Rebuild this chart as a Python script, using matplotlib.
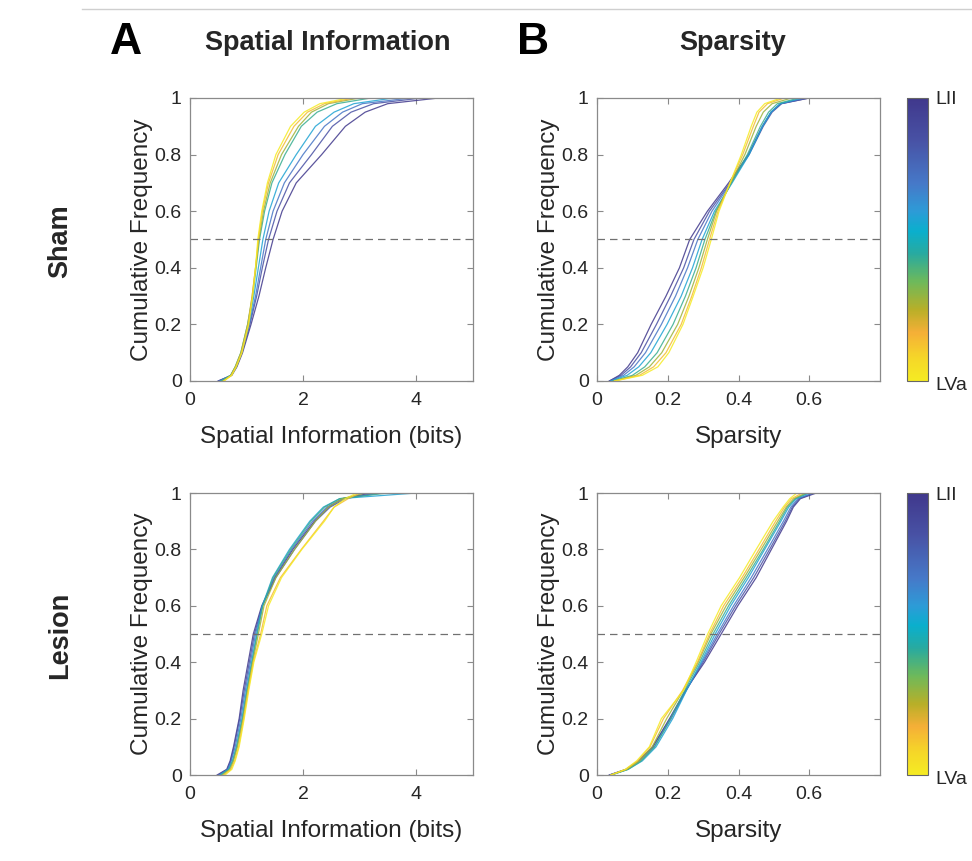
import numpy as np
import matplotlib
matplotlib.use("Agg")
import matplotlib.pyplot as plt
from matplotlib.colors import LinearSegmentedColormap, Normalize
from matplotlib.cm import ScalarMappable
from matplotlib.lines import Line2D

plt.rcParams["font.family"] = ["Liberation Sans", "DejaVu Sans"]

# cumulative frequency levels at which each curve's x value was read
cum_levels = [0, 0.02, 0.05, 0.1, 0.2, 0.3, 0.4, 0.5, 0.6, 0.7, 0.8, 0.9, 0.95, 0.98, 1.0]

# curves ordered from LII (first) to LVa (last)
sham_si = [
    [0.50, 0.74, 0.83, 0.93, 1.08, 1.22, 1.34, 1.47, 1.63, 1.88, 2.33, 2.75, 3.10, 3.50, 4.40],
    [0.50, 0.73, 0.82, 0.92, 1.06, 1.18, 1.28, 1.39, 1.54, 1.76, 2.15, 2.52, 2.85, 3.25, 4.10],
    [0.52, 0.73, 0.82, 0.91, 1.05, 1.16, 1.25, 1.34, 1.47, 1.67, 2.00, 2.38, 2.70, 3.05, 3.90],
    [0.55, 0.72, 0.81, 0.91, 1.04, 1.13, 1.21, 1.29, 1.40, 1.57, 1.88, 2.22, 2.55, 2.90, 3.60],
    [0.55, 0.72, 0.80, 0.90, 1.02, 1.11, 1.17, 1.23, 1.32, 1.45, 1.68, 1.97, 2.25, 2.60, 3.20],
    [0.58, 0.72, 0.80, 0.90, 1.02, 1.10, 1.16, 1.22, 1.30, 1.42, 1.62, 1.92, 2.15, 2.45, 3.00],
    [0.60, 0.73, 0.81, 0.91, 1.03, 1.10, 1.16, 1.21, 1.28, 1.39, 1.56, 1.84, 2.08, 2.38, 2.90],
    [0.60, 0.74, 0.82, 0.92, 1.04, 1.11, 1.16, 1.20, 1.27, 1.37, 1.52, 1.78, 2.02, 2.30, 2.80],
]

sham_sp = [
    [0.035, 0.063, 0.087, 0.115, 0.153, 0.195, 0.233, 0.262, 0.312, 0.372, 0.428, 0.468, 0.492, 0.520, 0.600],
    [0.035, 0.068, 0.095, 0.125, 0.168, 0.208, 0.245, 0.274, 0.318, 0.376, 0.430, 0.470, 0.495, 0.522, 0.600],
    [0.038, 0.075, 0.105, 0.137, 0.182, 0.222, 0.256, 0.285, 0.325, 0.378, 0.428, 0.467, 0.492, 0.518, 0.590],
    [0.040, 0.085, 0.118, 0.152, 0.198, 0.238, 0.270, 0.297, 0.332, 0.382, 0.430, 0.468, 0.492, 0.518, 0.580],
    [0.045, 0.100, 0.135, 0.170, 0.215, 0.250, 0.280, 0.305, 0.336, 0.380, 0.425, 0.462, 0.485, 0.510, 0.570],
    [0.048, 0.110, 0.148, 0.183, 0.228, 0.260, 0.288, 0.312, 0.338, 0.378, 0.418, 0.450, 0.470, 0.495, 0.550],
    [0.050, 0.120, 0.160, 0.195, 0.238, 0.268, 0.295, 0.318, 0.342, 0.376, 0.412, 0.442, 0.458, 0.482, 0.530],
    [0.050, 0.128, 0.172, 0.203, 0.243, 0.272, 0.300, 0.323, 0.345, 0.376, 0.408, 0.436, 0.452, 0.474, 0.520],
]

lesion_si = [
    [0.48, 0.65, 0.71, 0.77, 0.87, 0.94, 1.03, 1.12, 1.27, 1.50, 1.82, 2.20, 2.45, 2.70, 3.20],
    [0.50, 0.66, 0.72, 0.78, 0.88, 0.96, 1.05, 1.14, 1.28, 1.52, 1.85, 2.22, 2.48, 2.75, 3.30],
    [0.52, 0.67, 0.73, 0.80, 0.90, 0.98, 1.07, 1.16, 1.28, 1.49, 1.80, 2.17, 2.42, 2.70, 3.40],
    [0.53, 0.68, 0.75, 0.82, 0.92, 1.00, 1.09, 1.18, 1.28, 1.46, 1.76, 2.12, 2.36, 2.65, 4.00],
    [0.55, 0.69, 0.76, 0.83, 0.93, 1.01, 1.10, 1.19, 1.29, 1.47, 1.78, 2.14, 2.38, 2.65, 3.50],
    [0.57, 0.71, 0.77, 0.84, 0.94, 1.02, 1.11, 1.21, 1.31, 1.52, 1.85, 2.22, 2.45, 2.70, 3.10],
    [0.60, 0.72, 0.79, 0.86, 0.95, 1.03, 1.12, 1.25, 1.36, 1.60, 1.97, 2.36, 2.55, 2.80, 3.00],
    [0.62, 0.74, 0.80, 0.87, 0.96, 1.04, 1.13, 1.27, 1.39, 1.62, 1.98, 2.38, 2.55, 2.75, 2.95],
]

lesion_sp = [
    [0.035, 0.082, 0.118, 0.158, 0.205, 0.250, 0.304, 0.351, 0.398, 0.450, 0.493, 0.536, 0.555, 0.575, 0.620],
    [0.035, 0.082, 0.117, 0.157, 0.207, 0.252, 0.300, 0.345, 0.392, 0.443, 0.488, 0.532, 0.552, 0.572, 0.615],
    [0.037, 0.085, 0.122, 0.162, 0.210, 0.252, 0.297, 0.340, 0.386, 0.436, 0.482, 0.527, 0.548, 0.568, 0.610],
    [0.040, 0.088, 0.128, 0.167, 0.214, 0.253, 0.294, 0.334, 0.378, 0.428, 0.474, 0.520, 0.542, 0.563, 0.600],
    [0.040, 0.088, 0.125, 0.163, 0.208, 0.248, 0.290, 0.328, 0.372, 0.422, 0.470, 0.516, 0.538, 0.560, 0.595],
    [0.040, 0.085, 0.120, 0.156, 0.197, 0.244, 0.286, 0.322, 0.365, 0.416, 0.464, 0.511, 0.535, 0.556, 0.590],
    [0.038, 0.082, 0.115, 0.150, 0.188, 0.242, 0.284, 0.318, 0.358, 0.410, 0.458, 0.505, 0.530, 0.550, 0.580],
    [0.040, 0.080, 0.112, 0.148, 0.182, 0.245, 0.280, 0.313, 0.351, 0.403, 0.450, 0.498, 0.526, 0.545, 0.565],
]

# parula-like colormap, sampled from the reference colour bar (LII -> LVa)
cmap_pts = [
    (0.00, (64, 56, 140)),
    (0.15, (72, 82, 165)),
    (0.30, (70, 120, 200)),
    (0.40, (45, 155, 215)),
    (0.47, (10, 175, 205)),
    (0.55, (40, 170, 160)),
    (0.65, (110, 185, 90)),
    (0.75, (185, 175, 40)),
    (0.83, (245, 175, 55)),
    (0.92, (245, 215, 40)),
    (1.00, (245, 235, 35)),
]
parula = LinearSegmentedColormap.from_list(
    "parula_like", [(p, tuple(c / 255 for c in rgb)) for p, rgb in cmap_pts])

W, H = 972, 861
fig = plt.figure(figsize=(W / 100, H / 100), dpi=100)

def px_rect(l, t, r, b):
    return [l / W, 1 - b / H, (r - l) / W, (b - t) / H]

def px_text(x, y, s, **kw):
    fig.text(x / W, 1 - y / H, s, ha="center", va="center", **kw)

axis_col = "#8a8a8a"
text_col = "#262626"

panels = [
    (sham_si, px_rect(190, 98, 472.5, 381), (0, 5), [0, 2, 4], ["0", "2", "4"], "Spatial Information (bits)"),
    (sham_sp, px_rect(597, 98, 880, 381), (0, 0.8), [0, 0.2, 0.4, 0.6], ["0", "0.2", "0.4", "0.6"], "Sparsity"),
    (lesion_si, px_rect(190, 493, 472.5, 775), (0, 5), [0, 2, 4], ["0", "2", "4"], "Spatial Information (bits)"),
    (lesion_sp, px_rect(597, 493, 880, 775), (0, 0.8), [0, 0.2, 0.4, 0.6], ["0", "0.2", "0.4", "0.6"], "Sparsity"),
]

n = len(sham_si)
for curves, rect, xlim, xt, xtl, xlab in panels:
    ax = fig.add_axes(rect)
    for i, xs in enumerate(curves):
        ax.plot(xs, cum_levels, color=parula(i / (n - 1)), lw=0.9, alpha=0.85)
    ax.axhline(0.5, color="#707070", lw=0.9, ls=(0, (6, 4)))
    ax.set_xlim(*xlim)
    ax.set_ylim(0, 1)
    ax.set_xticks(xt)
    ax.set_xticklabels(xtl)
    ax.set_yticks([0, 0.2, 0.4, 0.6, 0.8, 1])
    ax.set_yticklabels(["0", "0.2", "0.4", "0.6", "0.8", "1"])
    ax.tick_params(direction="in", top=True, right=True, length=4, width=0.8,
                   color=axis_col, labelsize=14, labelcolor=text_col)
    ax.tick_params(axis="x", pad=8)
    ax.tick_params(axis="y", pad=6)
    for sp in ax.spines.values():
        sp.set_color(axis_col)
        sp.set_linewidth(0.9)
    ax.set_xlabel(xlab, fontsize=17.5, color=text_col, labelpad=12)
    ax.set_ylabel("Cumulative Frequency", fontsize=17.5, color=text_col, labelpad=1)

# colorbars
sm = ScalarMappable(norm=Normalize(0, 1), cmap=parula)
for top, bot in [(98, 381), (493, 775)]:
    cax = fig.add_axes(px_rect(907, top, 928, bot))
    cb = fig.colorbar(sm, cax=cax)
    cb.set_ticks([])
    cax.invert_yaxis()
    cb.outline.set_edgecolor("#666666")
    cb.outline.set_linewidth(0.8)
    fig.text(935 / W, 1 - (top + 2) / H, "LII", ha="left", va="center", fontsize=14, color=text_col)
    fig.text(935 / W, 1 - (bot + 4) / H, "LVa", ha="left", va="center", fontsize=14, color=text_col)

# panel headings
px_text(126, 42, "A", fontsize=32, fontweight="bold", color="black")
px_text(328, 43, "Spatial Information", fontsize=19.5, fontweight="bold", color=text_col)
px_text(533, 42, "B", fontsize=32, fontweight="bold", color="black")
px_text(733, 43, "Sparsity", fontsize=19.5, fontweight="bold", color=text_col)
px_text(60, 241, "Sham", fontsize=19.5, fontweight="bold", color=text_col, rotation=90)
px_text(60, 635, "Lesion", fontsize=19.5, fontweight="bold", color=text_col, rotation=90)

# faint frame line at the top
fig.add_artist(Line2D([82 / W, 1], [1 - 9 / H, 1 - 9 / H], color="#cfcfcf", lw=1))

fig.savefig("out.png", dpi=100)
